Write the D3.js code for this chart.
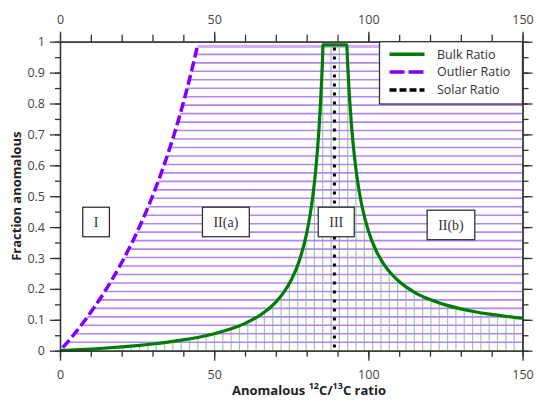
<!DOCTYPE html>
<html>
<head>
<meta charset="utf-8">
<script src="https://cdn.jsdelivr.net/npm/d3@7"></script>
<style>
  html, body { margin: 0; padding: 0; background: #fff; }
  svg { display: block; }
  text { font-family: "Open Sans", "Noto Sans", sans-serif; }
</style>
</head>
<body>
<svg id="chart" width="536" height="401"></svg>
<script>
// ---------------- data ----------------
const outlierRatio = [0.896, 1.774, 4.306, 8.215, 11.778, 15.041, 18.039, 20.803, 23.361, 25.733, 27.939,
  29.998, 31.922, 33.723, 35.416, 37.007, 38.508, 39.922, 41.261, 42.528, 43.729, 44.647];
const outlierFrac = [0.01, 0.02, 0.05, 0.10, 0.15, 0.20, 0.25, 0.30, 0.35, 0.40, 0.45,
  0.50, 0.55, 0.60, 0.65, 0.70, 0.75, 0.80, 0.85, 0.90, 0.95, 0.99];

const bulkRatio = [0, 5, 10, 15, 20, 25, 30, 35, 40, 45, 50, 55, 60, 65, 70, 72.5, 75, 77.5, 80, 81, 82, 83, 84,
  84.5, 85, 85.15, 85.3, 93.0, 93.2, 93.5, 94, 95, 96, 97, 98, 100, 102.5, 105, 110, 115, 120, 125, 130, 135, 140, 145, 150];
const bulkFrac = [0, 0.0025, 0.0054, 0.0087, 0.0124, 0.0167, 0.0217, 0.0277, 0.0349, 0.0437, 0.0548, 0.0691, 0.0884,
  0.1157, 0.1574, 0.1877, 0.2289, 0.2879, 0.3797, 0.4326, 0.5005, 0.5910, 0.7177, 0.8023, 0.9079, 0.945, 0.99,
  0.99, 0.948, 0.8876, 0.8031, 0.6763, 0.5859, 0.5180, 0.4652, 0.3883, 0.3243, 0.2803, 0.2238, 0.1890, 0.1654,
  0.1483, 0.1355, 0.1254, 0.1173, 0.1106, 0.1050];

const solarRatio = 89;

const xTicks = [0, 50, 100, 150];
const yTicks = [0, 0.1, 0.2, 0.3, 0.4, 0.5, 0.6, 0.7, 0.8, 0.9, 1];
const yTickLabels = ["0", "0.1", "0.2", "0.3", "0.4", "0.5", "0.6", "0.7", "0.8", "0.9", "1"];

const regionLabels = ["I", "II(a)", "III", "II(b)"];
const regionX = [11.7, 53.8, 89.6, 126.8];
const regionY = [0.4165, 0.4165, 0.4165, 0.407];

const legendLabels = ["Bulk Ratio", "Outlier Ratio", "Solar Ratio"];

// ---------------- layout ----------------
const svg = d3.select("#chart");
const L = 60, R = 522.5, T = 41.7, B = 350.7;
const x = d3.scaleLinear().domain([0, 150]).range([L, R]);
const y = d3.scaleLinear().domain([0, 1]).range([B, T]);

const outlier = outlierRatio.map((r, i) => [r, outlierFrac[i]]);
const bulk = bulkRatio.map((r, i) => [r, bulkFrac[i]]);

const defs = svg.append("defs");

// clip: area under bulk curve
defs.append("clipPath").attr("id", "clipBulk")
  .append("path")
  .attr("d", d3.area().x(d => x(d[0])).y0(y(0)).y1(d => y(d[1])).curve(d3.curveMonotoneX)(bulk));

// clip: region right of outlier curve
const outlierPoly = [[0, 0]].concat(outlier, [[150, 0.99], [150, 0]]);
defs.append("clipPath").attr("id", "clipOut")
  .append("path")
  .attr("d", d3.line().x(d => x(d[0])).y(d => y(d[1]))(outlierPoly) + "Z");

// green vertical hatch
const vStep = 2.7;
const vLines = d3.range(0, 56).map(k => 150 - vStep * k).filter(v => v > 0);
svg.append("g").attr("clip-path", "url(#clipBulk)")
  .selectAll("line").data(vLines).join("line")
  .attr("x1", d => x(d)).attr("x2", d => x(d))
  .attr("y1", y(0)).attr("y2", y(1))
  .attr("stroke", "#95d395").attr("stroke-width", 1.2);

// purple horizontal hatch
const hStep = 0.0274;
const hLines = d3.range(1, 37).map(k => hStep * k);
svg.append("g").attr("clip-path", "url(#clipOut)")
  .selectAll("line").data(hLines).join("line")
  .attr("x1", x(0)).attr("x2", x(150))
  .attr("y1", d => y(d)).attr("y2", d => y(d))
  .attr("stroke", (d, i) => i === hLines.length - 1 ? "#d2b0ff" : "#b783ff")
  .attr("stroke-width", (d, i) => i === hLines.length - 1 ? 4 : 1.6);

// solar ratio dotted line
svg.append("line")
  .attr("x1", x(solarRatio)).attr("x2", x(solarRatio))
  .attr("y1", y(0.01)).attr("y2", y(0.99))
  .attr("stroke", "#000").attr("stroke-width", 3)
  .attr("stroke-dasharray", "3,6");

// bulk ratio curve
svg.append("path")
  .attr("d", d3.line().x(d => x(d[0])).y(d => y(d[1])).curve(d3.curveMonotoneX)(bulk))
  .attr("fill", "none").attr("stroke", "#007d00").attr("stroke-width", 3.2)
  .attr("stroke-linejoin", "round");

// outlier ratio curve
svg.append("path")
  .attr("d", d3.line().x(d => x(d[0])).y(d => y(d[1])).curve(d3.curveMonotoneY)(outlier))
  .attr("fill", "none").attr("stroke", "#7f00ff").attr("stroke-width", 3.5)
  .attr("stroke-dasharray", "10,4");

// ---------------- axes ----------------
const axisColor = "#333";
const labelColor = "#444";
function styleAxis(g) {
  g.select(".domain").attr("stroke", axisColor).attr("stroke-width", 1.3);
  g.selectAll(".tick line").attr("stroke", axisColor).attr("stroke-width", 1.3);
  g.selectAll(".tick text").attr("fill", labelColor).style("font-size", "12.5px")
    .style("font-family", "'Open Sans', sans-serif");
}
const xMinor = d3.range(0, 151, 10);
const yMinor = d3.range(0, 1.0001, 0.05);

// bottom
svg.append("g").attr("transform", `translate(0,${B})`)
  .call(d3.axisBottom(x).tickValues(xMinor).tickSize(6).tickFormat("").tickSizeOuter(0)).call(styleAxis);
svg.append("g").attr("transform", `translate(0,${B})`)
  .call(d3.axisBottom(x).tickValues(xTicks).tickSize(10).tickPadding(9).tickSizeOuter(0)
    .tickFormat(d3.format("d"))).call(styleAxis);
// top
svg.append("g").attr("transform", `translate(0,${T})`)
  .call(d3.axisTop(x).tickValues(xMinor).tickSize(7).tickFormat("").tickSizeOuter(0)).call(styleAxis);
svg.append("g").attr("transform", `translate(0,${T})`)
  .call(d3.axisTop(x).tickValues(xTicks).tickSize(10).tickPadding(8).tickSizeOuter(0)
    .tickFormat(d3.format("d"))).call(styleAxis);
// left
svg.append("g").attr("transform", `translate(${L},0)`)
  .call(d3.axisLeft(y).tickValues(yMinor).tickSize(5).tickFormat("").tickSizeOuter(0)).call(styleAxis);
svg.append("g").attr("transform", `translate(${L},0)`)
  .call(d3.axisLeft(y).tickValues(yTicks).tickSize(10).tickPadding(5).tickSizeOuter(0)
    .tickFormat((d, i) => yTickLabels[i])).call(styleAxis);
// right
svg.append("g").attr("transform", `translate(${R},0)`)
  .call(d3.axisRight(y).tickValues(yMinor).tickSize(6).tickFormat("").tickSizeOuter(0)).call(styleAxis);
svg.append("g").attr("transform", `translate(${R},0)`)
  .call(d3.axisRight(y).tickValues(yTicks).tickSize(10).tickFormat("").tickSizeOuter(0)).call(styleAxis);

// axis titles
svg.append("text")
  .attr("transform", `translate(21,${(T + B) / 2}) rotate(-90)`)
  .attr("text-anchor", "middle").attr("fill", "#222")
  .style("font-size", "13px").style("font-weight", "bold")
  .text("Fraction anomalous");

const xt = svg.append("text")
  .attr("x", 309).attr("y", 395)
  .attr("text-anchor", "middle").attr("fill", "#222")
  .style("font-size", "13px").style("font-weight", "bold");
xt.append("tspan").text("Anomalous ");
xt.append("tspan").text("12").attr("baseline-shift", "super").style("font-size", "9px");
xt.append("tspan").text("C/");
xt.append("tspan").text("13").attr("baseline-shift", "super").style("font-size", "9px");
xt.append("tspan").text("C ratio");

// ---------------- region labels ----------------
regionLabels.forEach((lab, i) => {
  const g = svg.append("g").attr("transform", `translate(${x(regionX[i])},${y(regionY[i])})`);
  const rect = g.append("rect").attr("fill", "#fff").attr("stroke", "#333").attr("stroke-width", 1.3);
  const t = g.append("text").attr("text-anchor", "middle").attr("dy", "0.35em")
    .attr("fill", "#333")
    .style("font-family", "'Liberation Serif', 'DejaVu Serif', serif").style("font-size", "14px")
    .text(lab);
  const w = t.node().getComputedTextLength();
  const bw = w + 22, bh = 29.5;
  rect.attr("x", -bw / 2).attr("y", -bh / 2).attr("width", bw).attr("height", bh);
});

// ---------------- legend ----------------
const lgW = 143, lgH = 62.3;
const lg = svg.append("g").attr("transform", `translate(${R - lgW},${T})`);
lg.append("rect").attr("width", lgW).attr("height", lgH)
  .attr("fill", "#fff").attr("stroke", "#333").attr("stroke-width", 1.3);
const lgStyles = [
  { color: "#007d00", dash: null },
  { color: "#7f00ff", dash: "15,4" },
  { color: "#000", dash: "7,3" }
];
legendLabels.forEach((lab, i) => {
  const yy = 12.6 + i * 17.8;
  lg.append("line").attr("x1", 10).attr("x2", 45).attr("y1", yy).attr("y2", yy)
    .attr("stroke", lgStyles[i].color).attr("stroke-width", 3.5)
    .attr("stroke-dasharray", lgStyles[i].dash);
  lg.append("text").attr("x", 57.5).attr("y", yy).attr("dy", "0.35em")
    .attr("fill", "#333").style("font-size", "12.5px").text(lab);
});
</script>
</body>
</html>
